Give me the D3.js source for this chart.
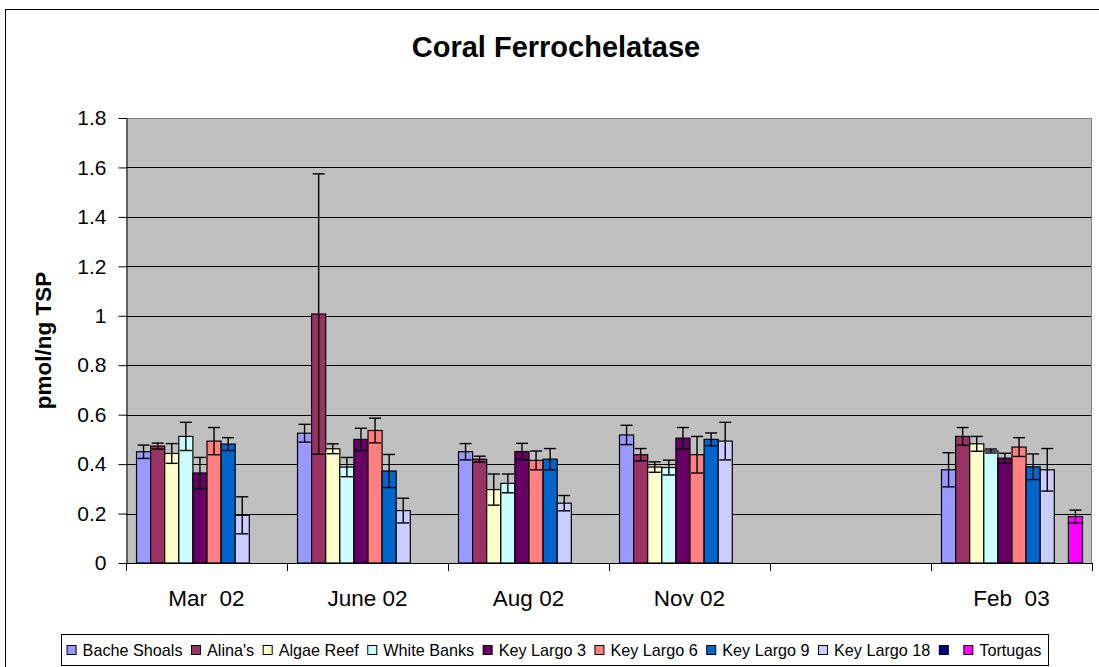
<!DOCTYPE html>
<html>
<head>
<meta charset="utf-8">
<script src="https://cdn.jsdelivr.net/npm/d3@7"></script>
<style>
html,body{margin:0;padding:0;background:#fff;}
svg{display:block;font-family:"Liberation Sans",Arial,sans-serif;}
</style>
</head>
<body>
<svg id="chart" width="1099" height="667"></svg>
<script>
// ---------- DATA ----------
const categories = ["Mar  02", "June 02", "Aug 02", "Nov 02", "", "Feb  03"];
const seriesNames = ["Bache Shoals", "Alina's", "Algae Reef", "White Banks", "Key Largo 3", "Key Largo 6", "Key Largo 9", "Key Largo 18", "", "Tortugas"];
const seriesColors = ["#9999FF", "#993366", "#FFFFCC", "#CCFFFF", "#660066", "#FF8080", "#0066CC", "#CCCCFF", "#000080", "#FF00FF"];

const bacheShoals   = [0.450, 0.525, 0.450, 0.518, null, 0.377];
const bacheErr      = [0.027, 0.036, 0.033, 0.039, null, 0.069];
const alinas        = [0.473, 1.007, 0.420, 0.438, null, 0.512];
const alinasErr     = [0.012, 0.567, 0.012, 0.025, null, 0.036];
const algaeReef     = [0.443, 0.462, 0.297, 0.388, null, 0.482];
const algaeErr      = [0.040, 0.020, 0.063, 0.021, null, 0.030];
const whiteBanks    = [0.512, 0.388, 0.322, 0.386, null, 0.453];
const whiteErr      = [0.057, 0.039, 0.038, 0.030, null, 0.008];
const keyLargo3     = [0.364, 0.500, 0.451, 0.505, null, 0.424];
const keyLargo3Err  = [0.063, 0.045, 0.033, 0.043, null, 0.020];
const keyLargo6     = [0.493, 0.536, 0.415, 0.438, null, 0.469];
const keyLargo6Err  = [0.055, 0.050, 0.038, 0.074, null, 0.038];
const keyLargo9     = [0.481, 0.372, 0.420, 0.500, null, 0.389];
const keyLargo9Err  = [0.026, 0.067, 0.043, 0.026, null, 0.052];
const keyLargo18    = [0.193, 0.212, 0.242, 0.493, null, 0.377];
const keyLargo18Err = [0.075, 0.050, 0.031, 0.076, null, 0.086];
const unnamedSeries = [null, null, null, null, null, null];
const unnamedErr    = [null, null, null, null, null, null];
const tortugas      = [null, null, null, null, null, 0.188];
const tortugasErr   = [null, null, null, null, null, 0.026];

const yTicks = [0, 0.2, 0.4, 0.6, 0.8, 1, 1.2, 1.4, 1.6, 1.8];

const seriesValues = [bacheShoals, alinas, algaeReef, whiteBanks, keyLargo3, keyLargo6, keyLargo9, keyLargo18, unnamedSeries, tortugas];
const seriesErrors = [bacheErr, alinasErr, algaeErr, whiteErr, keyLargo3Err, keyLargo6Err, keyLargo9Err, keyLargo18Err, unnamedErr, tortugasErr];

// ---------- LAYOUT ----------
const svg = d3.select("#chart");
const plot = {left: 126, right: 1092, top: 118, bottom: 563};

// outer chart border
svg.append("rect").attr("x", 5.5).attr("y", 9.5).attr("width", 1110).attr("height", 700)
  .attr("fill", "#fff").attr("stroke", "#000").attr("stroke-width", 1);

// title
svg.append("text").attr("x", 556).attr("y", 57).attr("text-anchor", "middle")
  .attr("font-size", 29).attr("font-weight", "bold").attr("fill", "#000")
  .text("Coral Ferrochelatase");

const x0 = d3.scaleBand().domain(d3.range(categories.length)).range([plot.left, plot.right]).padding(0);
const x1 = d3.scaleBand().domain(d3.range(seriesNames.length)).range([0, x0.bandwidth()]).paddingInner(0).paddingOuter(0.71);
const y = d3.scaleLinear().domain([0, 1.8]).range([plot.bottom, plot.top]);

// plot background
svg.append("rect").attr("x", plot.left).attr("y", plot.top)
  .attr("width", plot.right - plot.left).attr("height", plot.bottom - plot.top)
  .attr("fill", "#C0C0C0");

// gridlines
svg.append("g").selectAll("line").data(yTicks.filter(t => t > 0 && t < 1.8)).join("line")
  .attr("x1", plot.left).attr("x2", plot.right)
  .attr("y1", d => Math.round(y(d)) + 0.5).attr("y2", d => Math.round(y(d)) + 0.5)
  .attr("stroke", "#000").attr("stroke-width", 1);

// plot border (top/right gray)
svg.append("path")
  .attr("d", `M${plot.left},${plot.top + 0.5}H${plot.right - 0.5}V${plot.bottom}`)
  .attr("fill", "none").attr("stroke", "#808080").attr("stroke-width", 1);

// bars
const groups = svg.append("g").selectAll("g").data(categories.map((c, i) => i)).join("g")
  .attr("transform", i => `translate(${x0(i)},0)`);

groups.each(function(ci) {
  const g = d3.select(this);
  const items = seriesNames.map((s, si) => ({si, v: seriesValues[si][ci], e: seriesErrors[si][ci]}))
    .filter(d => d.v != null);
  g.selectAll("rect").data(items).join("rect")
    .attr("x", d => x1(d.si) + 0.5)
    .attr("y", d => y(d.v))
    .attr("width", x1.bandwidth())
    .attr("height", d => y(0) - y(d.v))
    .attr("fill", d => seriesColors[d.si])
    .attr("stroke", "#000").attr("stroke-width", 1.2);
  const eb = g.selectAll("g.eb").data(items.filter(d => d.e != null)).join("g").attr("class", "eb");
  const cx = d => x1(d.si) + x1.bandwidth() / 2 + 0.5;
  const cap = 6;
  eb.append("line").attr("x1", cx).attr("x2", cx)
    .attr("y1", d => y(d.v + d.e)).attr("y2", d => y(d.v - d.e))
    .attr("stroke", "#000").attr("stroke-width", 1.4);
  eb.append("line").attr("x1", d => cx(d) - cap).attr("x2", d => cx(d) + cap)
    .attr("y1", d => y(d.v + d.e)).attr("y2", d => y(d.v + d.e))
    .attr("stroke", "#000").attr("stroke-width", 1.4);
  eb.append("line").attr("x1", d => cx(d) - cap).attr("x2", d => cx(d) + cap)
    .attr("y1", d => y(d.v - d.e)).attr("y2", d => y(d.v - d.e))
    .attr("stroke", "#000").attr("stroke-width", 1.4);
});

// y axis
const yAxis = d3.axisLeft(y).tickValues(yTicks).tickSize(8).tickSizeOuter(0).tickFormat(d3.format("~g")).tickPadding(12);
const yg = svg.append("g").attr("transform", `translate(${plot.left + 0.5},0)`).call(yAxis);
yg.select(".domain").attr("stroke", "#000");
yg.selectAll(".tick line").attr("stroke", "#000");
yg.selectAll("text").attr("font-size", 21).attr("fill", "#000").attr("font-family", "Liberation Sans, Arial, sans-serif");

// x axis
svg.append("line").attr("x1", plot.left).attr("x2", plot.right)
  .attr("y1", plot.bottom + 0.5).attr("y2", plot.bottom + 0.5).attr("stroke", "#000");
const boundaries = categories.map((c, i) => x0(i)).concat([plot.right]);
svg.append("g").selectAll("line").data(boundaries).join("line")
  .attr("x1", d => Math.round(d) + 0.5).attr("x2", d => Math.round(d) + 0.5)
  .attr("y1", plot.bottom).attr("y2", plot.bottom + 8).attr("stroke", "#000");
svg.append("g").selectAll("text").data(categories.map((c, i) => i)).join("text")
  .attr("x", i => x0(i) + x0.bandwidth() / 2)
  .attr("y", 606)
  .attr("text-anchor", "middle")
  .attr("font-size", 22.5)
  .attr("fill", "#000")
  .style("white-space", "pre")
  .text(i => categories[i]);

// y axis title
svg.append("text").attr("transform", "translate(51,340.5) rotate(-90)")
  .attr("text-anchor", "middle").attr("font-size", 22.5).attr("font-weight", "bold")
  .attr("fill", "#000").text("pmol/ng TSP");

// legend
const legend = svg.append("g");
const legBox = legend.append("rect").attr("y", 634.5).attr("height", 31)
  .attr("fill", "#fff").attr("stroke", "#000");
let cursor = 0;
const itemsG = legend.append("g");
seriesNames.forEach((name, i) => {
  const it = itemsG.append("g").attr("transform", `translate(${cursor},0)`);
  it.append("rect").attr("x", 0.5).attr("y", 645.5).attr("width", 9).attr("height", 9)
    .attr("fill", seriesColors[i]).attr("stroke", "#000");
  const t = it.append("text").attr("x", 16).attr("y", 656).attr("font-size", 16.2).attr("fill", "#000").text(name);
  const w = name ? t.node().getComputedTextLength() : 0;
  cursor += 16 + w + 8.5;
});
const totalW = cursor - 8.5;
const legLeft = 554 - totalW / 2;
itemsG.attr("transform", `translate(${legLeft},0)`);
legBox.attr("x", Math.round(legLeft - 6) + 0.5).attr("width", Math.round(totalW + 12));
</script>
</body>
</html>
